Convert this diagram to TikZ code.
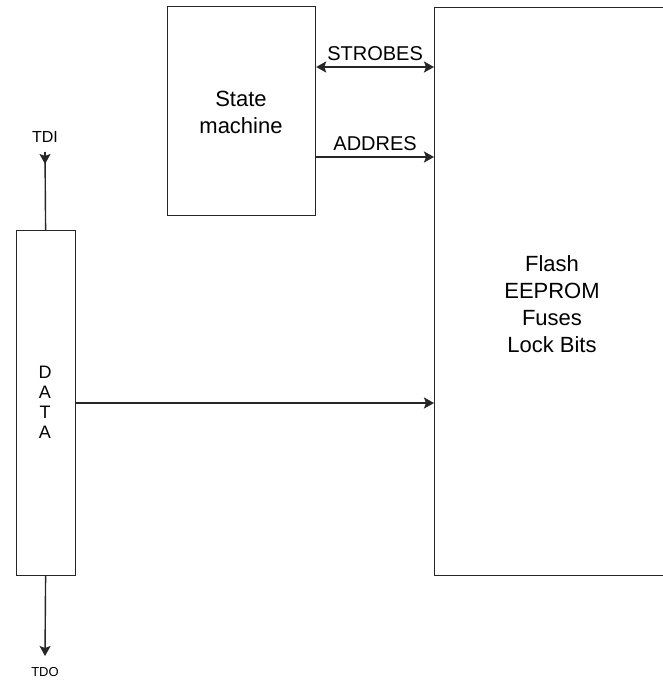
\documentclass[tikz,border=0pt]{standalone}
\usepackage{fontspec}
\setmainfont{Liberation Sans}
\usetikzlibrary{arrows.meta}
\begin{document}
\begin{tikzpicture}[x=1pt,y=-1pt,
  box/.style={draw=black!85, line width=1.2pt, inner sep=0pt},
  conn/.style={line width=2.2pt, draw=black!85},
  tip/.style={-{Stealth[length=10pt,width=11pt,inset=2pt]}},
  dtip/.style={{Stealth[length=10pt,width=11pt,inset=2pt]}-{Stealth[length=10pt,width=11pt,inset=2pt]}},
  thin/.style={line width=1.4pt, draw=black!85},
  big/.style={font=\fontsize{22}{27}\selectfont, align=center},
  lab/.style={font=\fontsize{20}{24}\selectfont}
]
\useasboundingbox (0,0) rectangle (662,680);
% boxes
\node[box, minimum width=148pt, minimum height=209pt, anchor=north west] (sm) at (167,6) {};
\node[box, minimum width=260pt, minimum height=568pt, anchor=north west] (flash) at (434,7) {};
\node[box, minimum width=59pt, minimum height=345pt, anchor=north west] (data) at (15.5,230) {};
% texts
\node[big] (smtext) at (241,112) {State\\machine};
\node[big] (flashtext) at (552,304) {Flash\\EEPROM\\Fuses\\Lock Bits};
\node[font=\fontsize{18}{20}\selectfont, align=center] (datatext) at (45,402) {D\\A\\T\\A};
% connectors
\coordinate (sA) at (sm.east |- 0,67);
\coordinate (fA) at (flash.west |- 0,67);
\draw[conn, dtip] (sA) -- node[lab, above=2pt] (strobes) {STROBES} (fA);
\coordinate (sB) at (sm.east |- 0,157);
\coordinate (fB) at (flash.west |- 0,157);
\draw[conn, tip] (sB) -- node[lab, above=2pt] (addres) {ADDRES} (fB);
\coordinate (dC) at (data.east |- 0,403);
\coordinate (fC) at (flash.west |- 0,403);
\draw[conn, tip] (dC) -- (fC);
% TDI
\coordinate (tdiTop) at (45,152);
\coordinate (tdiTip) at (45,164);
\draw[thin] (data.north) -- (tdiTop);
\draw[thin, tip] (tdiTop) -- (tdiTip);
\node[font=\fontsize{16}{18}\selectfont, anchor=south] (tdi) at (45,146) {TDI};
% TDO
\coordinate (tdoTip) at (45,656);
\draw[thin, tip] (data.south) -- (tdoTip);
\node[font=\fontsize{13}{15}\selectfont, anchor=base, inner sep=0pt] (tdo) at (45,676) {TDO};
\end{tikzpicture}
\end{document}
